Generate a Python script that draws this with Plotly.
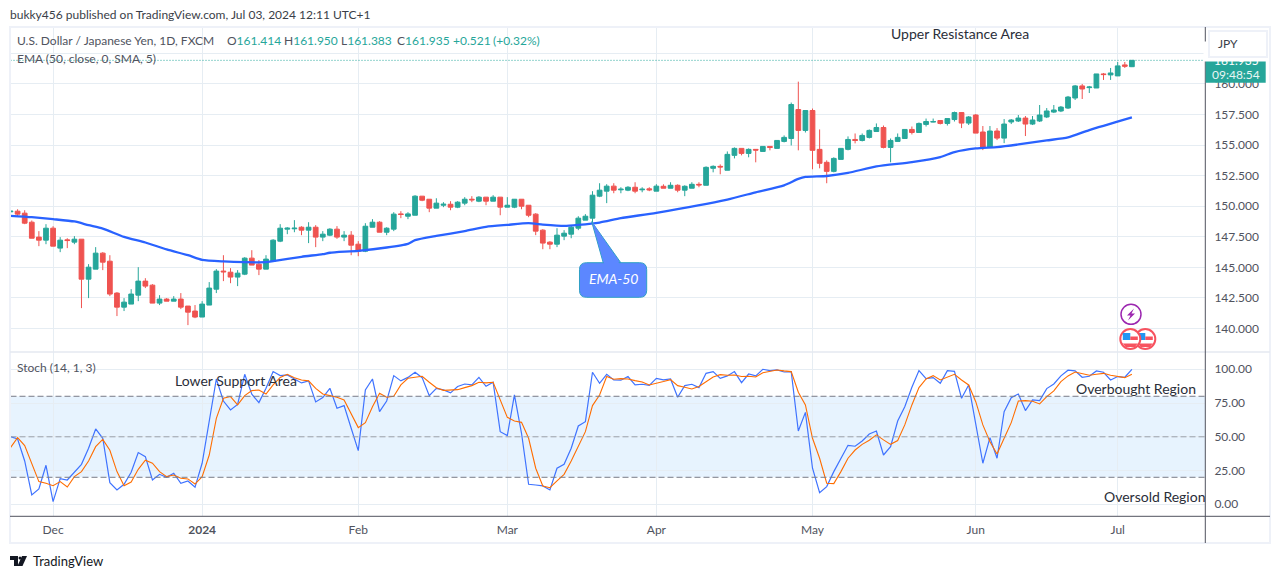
import plotly.graph_objects as go
from plotly.subplots import make_subplots

W, H = 1281, 579

# Daily candles
highs = [149.73,149.75,149.67,148.83,147.96,148.53,148.36,147.47,147.38,147.55,
         147.30,145.26,146.65,146.24,145.99,142.97,142.48,143.21,145.01,144.11,
         143.62,142.72,142.48,142.64,142.89,141.83,141.91,142.23,143.79,144.85,
         145.99,144.93,144.77,145.83,146.40,145.59,145.99,147.30,148.53,148.28,
         148.86,148.36,148.69,148.45,147.96,148.20,148.37,147.96,147.96,147.14,
         148.61,148.94,148.77,148.28,149.51,149.59,149.51,150.90,150.82,150.57,
         150.65,150.33,150.41,150.41,150.74,150.82,150.82,150.74,150.90,150.74,
         150.74,150.57,150.57,150.08,149.43,148.12,147.14,148.20,148.04,148.45,
         149.18,149.35,151.23,151.88,151.80,151.88,151.55,151.64,151.96,151.55,
         151.55,151.80,151.79,151.96,151.79,151.71,151.96,151.96,153.26,153.34,
         153.42,154.48,154.81,154.73,154.73,154.65,154.89,154.89,155.38,155.79,
         158.48,160.19,157.83,157.99,156.28,153.75,154.00,154.73,155.71,155.95,
         155.95,156.28,156.77,156.60,155.54,155.95,156.28,156.52,156.85,157.17,
         157.17,157.01,157.17,157.74,157.70,157.38,157.54,156.56,156.56,156.39,
         157.13,157.13,157.46,157.38,157.38,158.28,158.03,158.28,158.20,159.02,
         159.92,160.00,159.84,160.82,160.90,161.31,161.80,161.80,161.95]
opens = [149.54,149.59,149.43,148.69,147.47,147.22,148.20,146.57,147.25,147.06,
         147.30,144.03,144.85,146.16,145.50,142.89,141.74,141.99,142.72,143.87,
         143.54,142.07,142.40,142.23,142.40,141.83,141.42,140.93,141.91,143.21,
         144.69,144.60,144.20,144.44,145.75,145.26,144.85,145.50,147.14,148.12,
         148.15,148.28,148.04,148.28,147.47,147.63,148.12,147.47,147.63,146.89,
         146.32,148.28,148.69,147.87,148.12,149.37,149.18,149.26,150.82,150.57,
         149.84,150.08,150.16,149.92,150.25,150.57,150.41,150.74,150.41,150.74,
         149.92,149.92,150.57,150.08,149.35,148.04,147.06,146.89,147.55,147.71,
         148.20,148.86,149.02,150.82,151.23,151.64,151.34,151.31,151.55,151.34,
         151.42,151.23,151.63,151.47,151.71,151.31,151.47,151.79,151.71,153.10,
         153.26,152.94,154.16,154.73,154.32,154.65,154.48,154.89,154.73,155.30,
         155.54,157.91,156.20,157.83,154.65,153.59,152.85,153.83,154.65,155.46,
         155.38,155.63,156.11,156.44,154.81,155.30,155.54,156.28,156.03,156.69,
         156.88,157.01,156.77,157.09,157.66,156.80,157.46,156.07,154.84,156.15,
         155.57,156.89,156.97,157.21,156.72,156.97,157.30,157.70,157.79,158.03,
         158.85,159.84,159.70,159.67,160.82,160.74,160.66,161.56,161.414]
closes = [149.59,149.35,148.61,147.38,147.22,148.20,146.73,147.22,147.19,147.30,
          144.03,145.01,146.16,145.42,142.81,141.74,142.15,142.81,143.87,143.46,
          142.07,142.40,142.23,142.40,141.74,141.33,140.93,141.99,143.30,144.69,
          144.63,144.20,144.52,145.75,145.18,144.85,145.67,147.22,148.20,148.20,
          148.20,148.04,148.28,147.47,147.71,148.12,147.47,147.63,146.81,146.32,
          148.36,148.69,147.87,148.20,149.35,149.32,149.37,150.82,150.49,149.84,
          150.25,150.16,149.92,150.33,150.57,150.52,150.74,150.41,150.74,149.92,
          150.08,150.57,150.00,149.26,147.96,146.98,146.89,147.63,147.79,148.28,
          149.02,149.18,150.90,151.31,151.64,151.31,151.39,151.55,151.23,151.39,
          151.34,151.64,151.47,151.71,151.31,151.63,151.79,151.74,153.18,153.26,
          153.21,154.24,154.73,154.32,154.65,154.59,154.89,154.81,155.38,155.63,
          158.32,156.20,157.83,154.57,153.51,152.85,153.91,154.73,155.46,155.38,
          155.79,156.20,156.44,154.81,155.38,155.63,156.28,156.03,156.77,156.93,
          156.93,156.77,157.17,157.66,156.80,157.30,155.98,154.84,156.15,155.57,
          156.72,157.05,157.21,156.72,157.05,157.46,157.79,157.87,158.11,158.93,
          159.84,159.59,159.75,160.82,160.77,160.90,161.48,161.45,161.935]
lows = [148.99,149.18,148.53,147.38,146.73,146.89,146.73,146.24,146.57,146.89,
        141.66,142.48,144.85,144.77,142.64,141.01,141.42,141.99,142.23,143.30,
        142.07,141.91,142.23,142.23,141.58,140.27,140.84,140.93,141.91,142.89,
        143.87,143.70,143.46,144.36,145.18,144.36,144.85,145.50,147.06,147.71,
        147.87,147.63,146.98,146.65,147.14,147.55,147.33,147.14,145.99,145.91,
        146.24,148.28,147.87,147.63,147.96,149.02,148.94,149.26,150.41,149.51,
        149.84,149.92,149.67,149.84,150.08,150.33,150.33,150.08,150.41,149.26,
        149.92,149.84,149.75,149.10,147.63,146.48,146.48,146.65,147.22,147.38,
        148.04,148.86,148.69,150.74,150.25,151.06,151.06,151.23,151.06,151.14,
        151.23,151.23,151.47,151.47,151.14,150.82,151.47,151.55,151.71,152.77,
        152.61,152.94,153.91,154.16,154.00,153.59,154.48,154.57,154.73,155.22,
        154.97,154.57,156.03,153.02,153.10,151.88,152.77,153.83,154.57,155.14,
        155.30,155.54,156.11,154.73,153.59,155.30,155.54,155.87,156.03,156.52,
        156.85,156.69,156.60,156.93,156.39,156.64,155.98,154.59,154.84,155.41,
        155.16,156.72,156.89,155.74,156.64,156.89,157.21,157.62,157.70,157.95,
        158.69,158.77,159.26,159.67,160.33,160.33,160.66,161.31,161.383]
bars = list(range(len(closes)))

# EMA 50, sampled at the bars where the curve bends
ema_bars = [0,3,6,9,11,13,16,19,22,25,27,30,33,36,37,41,44,45,49,53,56,57,60,64,67,70,73,75,78,80,
            83,86,91,101,105,109,111,112,115,118,122,127,131,133,136,139,142,146,149,152,158]
ema_vals = [149.21,149.10,148.94,148.75,148.45,148.17,147.49,147.03,146.46,145.99,145.61,145.48,145.42,145.42,
            145.50,145.86,146.08,146.19,146.35,146.62,146.92,147.22,147.57,147.96,148.31,148.47,148.61,148.50,
            148.39,148.47,148.66,149.02,149.46,150.54,151.14,151.71,152.23,152.39,152.47,152.72,153.26,153.61,
            154.02,154.43,154.73,154.84,155.05,155.38,155.63,156.23,157.27]

# Stochastic %K and %D
stoch_k = [50.1,48.4,32.1,6.9,11.4,28.9,2.0,19.0,18.0,24.2,29.6,41.5,55.8,48.9,16.0,10.6,14.8,23.7,38.3,35.3,
           18.0,22.2,20.0,23.0,15.6,17.3,12.6,30.4,62.5,92.8,76.5,69.9,74.0,96.3,81.5,75.3,85.9,98.3,95.3,95.8,
           92.8,89.9,91.4,75.8,79.0,85.9,71.1,73.1,56.3,39.8,84.7,92.8,68.6,76.5,95.3,91.4,94.0,97.8,93.8,80.5,
           85.9,84.7,82.5,87.2,89.1,88.4,94.0,87.4,90.4,53.8,50.9,81.0,52.6,14.8,14.3,13.6,10.6,26.7,29.6,41.5,
           58.0,61.2,97.8,89.6,96.3,92.1,91.9,94.6,88.4,88.9,88.1,93.3,92.1,92.8,79.3,87.9,88.9,86.4,97.0,98.3,
           93.3,95.1,98.3,90.1,96.5,95.1,100.0,99.0,99.5,98.0,98.3,54.3,68.1,26.7,8.6,13.1,24.2,34.1,43.7,43.0,
           46.9,52.1,54.3,36.5,42.7,61.7,72.3,86.7,99.0,93.1,93.8,89.6,99.0,98.5,78.5,88.4,60.0,30.4,49.4,34.1,
           68.6,79.0,81.7,69.4,77.3,76.8,85.7,89.1,95.1,99.3,98.8,94.1,94.8,98.8,97.8,92.1,94.6,94.1,100.0]
stoch_d = [42.0,49.4,43.5,30.4,16.8,15.6,13.8,16.8,12.8,20.5,24.2,32.1,42.7,48.1,40.0,24.2,13.8,16.5,25.9,32.6,
           30.4,24.2,20.5,21.7,19.3,18.8,15.0,20.5,36.5,63.7,78.5,79.8,73.6,80.5,84.2,84.7,81.7,88.4,94.0,96.3,
           93.8,92.1,91.4,85.9,81.7,80.5,79.3,77.3,67.4,56.8,60.5,72.3,82.2,79.3,80.0,88.4,93.3,94.3,94.8,90.4,
           86.4,84.4,84.4,84.9,86.4,87.9,90.4,89.9,90.4,77.3,64.4,61.7,60.7,48.9,26.7,13.6,12.3,17.3,22.2,32.1,
           42.7,53.8,73.1,81.0,94.6,92.6,93.1,92.8,91.6,90.6,88.4,89.9,90.9,92.3,87.9,86.7,85.4,87.2,90.9,94.3,
           96.0,95.6,95.8,94.6,94.8,94.3,97.5,98.5,99.5,98.8,98.3,83.0,73.6,48.9,34.1,15.6,15.3,24.2,34.1,40.2,
           44.4,47.4,51.4,47.7,44.4,47.2,58.8,73.6,86.4,92.8,95.3,92.1,94.1,96.3,92.1,88.4,76.0,58.8,46.4,37.3,
           48.9,60.5,76.5,76.8,76.3,74.3,79.8,84.0,90.9,95.1,98.0,97.0,95.6,96.3,97.0,95.6,94.8,93.8,96.3]

# Axis ticks
month_bars = [6, 27, 49, 70, 91, 113, 136, 156]
month_labels = ["Dec", "<b>2024</b>", "Feb", "Mar", "Apr", "May", "Jun", "Jul"]
price_ticks = [140, 142.5, 145, 147.5, 150, 152.5, 155, 157.5, 160, 162.5]
stoch_ticks = [0, 25, 50, 75, 100]
last_price = 161.935

GREEN = "#26A69A"
RED = "#EF5350"
GRID = "#E6EDF3"
AXIS_TEXT = "#50535E"
FONT = "Lato"


def px(x):
    return x / W


def py(y):
    return 1 - y / H


def label(x, y, text, color="#333333", size=12, anchor="left", **kw):
    # annotations carry about 2px of padding on the left and sit 1px low
    if anchor == "left":
        x -= 2
        y -= 1
    fig.add_annotation(x=px(x), y=py(y), xref="paper", yref="paper", text=text, showarrow=False,
                       xanchor=anchor, yanchor="middle", font=dict(family=FONT, size=size, color=color), **kw)


def box(x0, y0, x1, y1, **kw):
    fig.add_shape(type="rect", xref="paper", yref="paper", x0=px(x0), x1=px(x1), y0=py(y0), y1=py(y1), **kw)


def hline(x0, x1, y, color, width=1):
    fig.add_shape(type="line", xref="paper", yref="paper", x0=px(x0), x1=px(x1), y0=py(y), y1=py(y),
                  line=dict(color=color, width=width))


def path(points, **kw):
    d = " ".join(f"{c}{px(x):.5f},{py(y):.5f}" for c, x, y in points) + " Z"
    fig.add_shape(type="path", xref="paper", yref="paper", path=d, **kw)


def rounded(x0, y0, x1, y1, r):
    return (f"M{px(x0 + r):.5f},{py(y0):.5f} L{px(x1 - r):.5f},{py(y0):.5f} Q{px(x1):.5f},{py(y0):.5f} {px(x1):.5f},{py(y0 + r):.5f} "
            f"L{px(x1):.5f},{py(y1 - r):.5f} Q{px(x1):.5f},{py(y1):.5f} {px(x1 - r):.5f},{py(y1):.5f} "
            f"L{px(x0 + r):.5f},{py(y1):.5f} Q{px(x0):.5f},{py(y1):.5f} {px(x0):.5f},{py(y1 - r):.5f} "
            f"L{px(x0):.5f},{py(y0 + r):.5f} Q{px(x0):.5f},{py(y0):.5f} {px(x0 + r):.5f},{py(y0):.5f} Z")


fig = make_subplots(rows=2, cols=1, shared_xaxes=True, vertical_spacing=0)

fig.add_trace(go.Candlestick(x=bars, open=opens, high=highs, low=lows, close=closes, whiskerwidth=0,
                             increasing=dict(line=dict(color=GREEN, width=1), fillcolor=GREEN),
                             decreasing=dict(line=dict(color=RED, width=1), fillcolor=RED)), row=1, col=1)
fig.add_trace(go.Scatter(x=ema_bars, y=ema_vals, mode="lines",
                         line=dict(color="#2962FF", width=2.3, shape="spline", smoothing=0.6)), row=1, col=1)
fig.add_trace(go.Scatter(x=bars, y=stoch_k, mode="lines", line=dict(color="#3F73FF", width=1.2)), row=2, col=1)
fig.add_trace(go.Scatter(x=bars, y=stoch_d, mode="lines", line=dict(color="#FF6D00", width=1.1)), row=2, col=1)

axis_font = dict(family=FONT, size=12, color=AXIS_TEXT)
x_domain = [px(10.5), px(1205)]
x_range = [0, 168.3]
fig.update_xaxes(range=x_range, domain=x_domain, tickvals=month_bars, ticktext=month_labels, showgrid=True,
                 gridcolor=GRID, gridwidth=1.2, zeroline=False, showline=False, rangeslider_visible=False,
                 tickfont=axis_font, ticks="outside", ticklen=3, tickcolor="rgba(0,0,0,0)")
fig.update_xaxes(showticklabels=False, ticks="", row=1, col=1)
fig.update_yaxes(side="right", showgrid=True, gridcolor=GRID, gridwidth=1.2, zeroline=False, showline=False,
                 tickfont=axis_font, ticks="outside", ticklen=6, tickcolor="rgba(0,0,0,0)")
fig.update_yaxes(domain=[py(352), py(28)], range=[138.07, 164.58], tickvals=price_ticks,
                 tickformat=".3f", row=1, col=1)
fig.update_yaxes(domain=[py(516), py(352)], range=[-8.67, 112.8], tickvals=stoch_ticks,
                 tickformat=".2f", row=2, col=1)

# Stochastic band and levels
fig.add_hrect(y0=20, y1=80, fillcolor="rgba(33,150,243,0.11)", line_width=0, layer="below", row=2, col=1)
for level, shade in [(80, "#787B86"), (50, "#9AA0AA"), (20, "#787B86")]:
    fig.add_hline(y=level, line=dict(color=shade, width=1, dash="6px,3px"), row=2, col=1)

# Last price dotted line
fig.add_hline(y=last_price, line=dict(color=GREEN, width=1, dash="1px,2px"), row=1, col=1)

# Frame
box(10, 27, 1270, 543, line=dict(color="#EEF1F8", width=2))
hline(10, 1270, 352, "#E4E8F0", 1.5)
hline(10, 1270, 516.3, "#50535E", 1)
fig.add_shape(type="line", xref="paper", yref="paper", x0=px(1205.3), x1=px(1205.3), y0=py(27), y1=py(543),
              line=dict(color="#50535E", width=1))

# Price tag on the axis
box(1205.7, 60.7, 1265.7, 82.7, fillcolor=GREEN, line_width=0)

# EMA-50 callout
path([("M", 591.7, 221.7), ("L", 621, 263), ("L", 603.3, 263)], fillcolor="#5C87FF", line=dict(color="#2F9FC6", width=1))
fig.add_shape(type="path", xref="paper", yref="paper", path=rounded(579.5, 262.7, 646.7, 297.3, 7),
              fillcolor="#5C87FF", line=dict(color="#2F9FC6", width=1))
path([("M", 592.6, 222.5), ("L", 620, 264.5), ("L", 604.3, 264.5)], fillcolor="#5C87FF", line_width=0)

# Event icons
fig.add_shape(type="circle", xref="paper", yref="paper", x0=px(1121), x1=px(1141), y0=py(324.3), y1=py(304.3),
              fillcolor="white", line=dict(color="#9C27B0", width=1.5))
path([("M", 1134, 308.5), ("L", 1127, 315.5), ("L", 1130.5, 315.5), ("L", 1128, 320.5), ("L", 1135, 313.5), ("L", 1131.5, 313.5)],
     fillcolor="#9C27B0", line_width=0)
for cx in [1145.3, 1130.3]:
    fig.add_shape(type="circle", xref="paper", yref="paper", x0=px(cx - 10), x1=px(cx + 10), y0=py(349), y1=py(329),
                  fillcolor="white", line=dict(color="#F7525F", width=2))
    box(cx - 7.5, 333, cx, 340, fillcolor="#2196F3", line_width=0)
    box(cx, 336.5, cx + 7.5, 340, fillcolor="#F7525F", line_width=0)
    path([("M", cx - 7.5, 343.5), ("L", cx + 7.5, 343.5), ("L", cx + 4.5, 347), ("L", cx - 4.5, 347)], fillcolor="#F7525F", line_width=0)

# TradingView logo
path([("M", 10, 556), ("L", 18, 556), ("L", 18, 566), ("L", 14, 566), ("L", 14, 560), ("L", 10, 560)], fillcolor="#131722", line_width=0)
path([("M", 22, 556), ("L", 27, 556), ("L", 22.5, 566), ("L", 17.5, 566)], fillcolor="#131722", line_width=0)
fig.add_shape(type="circle", xref="paper", yref="paper", x0=px(18.5), x1=px(21.5), y0=py(559.5), y1=py(556.5), fillcolor="#131722", line_width=0)

# Texts
label(10, 15, "bukky456 published on TradingView.com, Jul 03, 2024 12:11 UTC+1", color="#3A3E48", size=12)
label(17, 42, "U.S. Dollar / Japanese Yen, 1D, FXCM", color=AXIS_TEXT, size=12)
for x, head, value in [(227, "O", "161.414"), (284, "H", "161.950"), (341, "L", "161.383"), (397, "C", "161.935")]:
    label(x, 42, f'{head}<span style="color:{GREEN}">{value}</span>', color=AXIS_TEXT, size=12)
label(453, 42, "+0.521", color=GREEN, size=12)
label(493, 42, "(+0.32%)", color=GREEN, size=12)
label(17, 60, "EMA (50, close, 0, SMA, 5)", color=AXIS_TEXT, size=12)
label(17, 368, "Stoch (14, 1, 3)", color=AXIS_TEXT, size=12)
label(891, 35, "Upper Resistance Area", color="#2A2E39", size=14)
label(175, 381, "Lower Support Area", color="#2A2E39", size=14)
label(1076, 389, "Overbought Region", color="#2A2E39", size=14)
label(1104, 497, "Oversold Region", color="#2A2E39", size=14)
label(613, 279, "<i>EMA-50</i>", color="white", size=14, anchor="center")
label(33, 562, "TradingView", color="#131722", size=13)

# Axis tag texts, the JPY button sits on top and hides the upper half of the price
label(1236, 60.5, f"{last_price:.3f}", color="white", size=12, anchor="center")
label(1236, 74.5, "09:48:54", color="#E8F6F4", size=12, anchor="center")
label(1236, 52, " ", size=12, anchor="center", bgcolor="white", width=62, height=17)
label(1238, 43.7, " ", size=12, anchor="center", bgcolor="white", bordercolor="#EEF1F8",
      borderwidth=2, width=54, height=22)
label(1218, 45, "JPY", color="#3A3E48", size=12)

fig.update_layout(width=W, height=H, margin=dict(l=0, r=0, t=0, b=0), paper_bgcolor="white", plot_bgcolor="white",
                  showlegend=False, boxgap=0.05, hovermode=False, xaxis_rangeslider_visible=False)

fig.write_html("out.html", config={"displayModeBar": False}, post_script="document.body.style.margin='0';")
